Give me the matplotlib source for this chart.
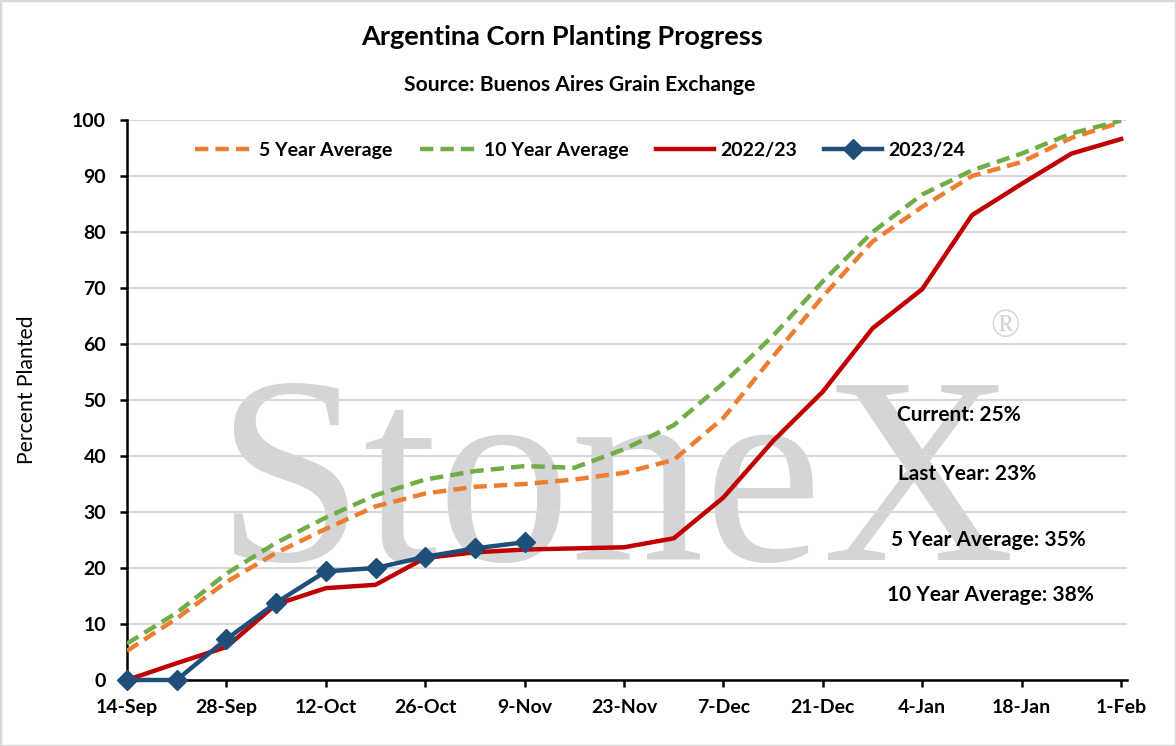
import pandas as pd
import matplotlib
matplotlib.use('Agg')
import matplotlib.pyplot as plt
from matplotlib.patches import Rectangle

plt.rcParams['font.family'] = ['Lato', 'DejaVu Sans']

# weekly report dates
weeks = ['2023-09-14', '2023-09-21', '2023-09-28', '2023-10-05', '2023-10-12',
         '2023-10-19', '2023-10-26', '2023-11-02', '2023-11-09', '2023-11-16',
         '2023-11-23', '2023-11-30', '2023-12-07', '2023-12-14', '2023-12-21',
         '2023-12-28', '2024-01-04', '2024-01-11', '2024-01-18', '2024-01-25',
         '2024-02-01']
avg5 = [5.2, 11, 17.5, 22.7, 27, 31, 33.3, 34.5, 35, 35.8, 37, 39.3, 46.8,
        57.8, 68.5, 78.3, 84.5, 90, 92.5, 96.8, 99.6]
avg10 = [6.5, 12, 19, 24.5, 29, 33, 35.8, 37.3, 38.2, 37.9, 41.2, 45.5, 53,
         61.5, 71.2, 80, 86.7, 91, 94, 97.6, 99.9]
y2022 = [0, 3, 5.9, 13.5, 16.4, 17, 21.8, 22.8, 23.3, 23.5, 23.7, 25.3, 32.6,
         42.7, 51.5, 62.8, 69.8, 83, 88.6, 94, 96.6]
y2023 = [0, 0, 7.3, 13.8, 19.4, 20, 22, 23.5, 24.6]

tick_dates = ['2023-09-14', '2023-09-28', '2023-10-12', '2023-10-26', '2023-11-09',
              '2023-11-23', '2023-12-07', '2023-12-21', '2024-01-04', '2024-01-18',
              '2024-02-01']
tick_labels = ['14-Sep', '28-Sep', '12-Oct', '26-Oct', '9-Nov', '23-Nov',
               '7-Dec', '21-Dec', '4-Jan', '18-Jan', '1-Feb']

notes = ['Current: 25%', 'Last Year: 23%', '5 Year Average: 35%', '10 Year Average: 38%']

x = pd.to_datetime(weeks)
x23 = x[:len(y2023)]

W, H = 1176, 746
fig = plt.figure(figsize=(W / 100, H / 100), dpi=100)
ax = fig.add_axes([127 / W, 66 / H, 1000 / W, 560 / H])

# watermark
ax.text(0.488, 0.215, 'StoneX', transform=ax.transAxes, ha='center', va='baseline',
        fontsize=192, family='Liberation Serif', color='#D4D5D7', zorder=0)
ax.text(0.878, 0.63, '®', transform=ax.transAxes, ha='center', va='center',
        fontsize=28, family='Liberation Serif', color='#D4D5D7', zorder=0)

ax.plot(x, avg5, color='#ED7D31', lw=3.2, ls=(0, (3, 1.6)), label='5 Year Average', zorder=3)
ax.plot(x, avg10, color='#70AD47', lw=3.2, ls=(0, (3, 1.6)), label='10 Year Average', zorder=3)
ax.plot(x, y2022, color='#C00000', lw=3.2, label='2022/23', zorder=4, solid_joinstyle='round')
ax.plot(x23, y2023, color='#1F4E79', lw=3.2, marker='D', ms=10, label='2023/24', zorder=5,
        solid_joinstyle='round', clip_on=False)

ax.set_ylim(0, 100)
ax.set_yticks(range(0, 101, 10))
ax.set_xlim(pd.Timestamp('2023-09-14'), pd.Timestamp('2024-02-01') + pd.Timedelta(hours=20))
ax.set_xticks(pd.to_datetime(tick_dates))
ax.set_xticklabels(tick_labels)

ax.grid(axis='y', color='#D9D9D9', lw=1.5, zorder=1)
ax.set_axisbelow(True)
for s in ['top', 'right']:
    ax.spines[s].set_visible(False)
for s in ['left', 'bottom']:
    ax.spines[s].set_linewidth(1.8)
    ax.spines[s].set_color('black')
ax.tick_params(direction='out', length=5, width=1.8, labelsize=14)
ax.tick_params(axis='y', pad=10)
ax.tick_params(axis='x', pad=9)
for lab in ax.get_xticklabels() + ax.get_yticklabels():
    lab.set_fontweight('bold')

ax.legend(loc='center', bbox_to_anchor=(0.453, 0.946), ncol=4, frameon=False,
          prop={'weight': 'bold', 'size': 14}, handlelength=3, handletextpad=0.3,
          columnspacing=1.4)

fig.text(562 / W, 1 - 37 / H, 'Argentina Corn Planting Progress', ha='center', va='center',
         fontsize=19.5, fontweight='bold')
fig.text(580 / W, 1 - 85 / H, 'Source: Buenos Aires Grain Exchange', ha='center', va='center',
         fontsize=15.2, fontweight='bold')
fig.text(27 / W, 1 - 390 / H, 'Percent Planted', rotation=90, ha='center', va='center',
         fontsize=15.2)

note_x = [959, 967, 988, 990]
note_y = [415, 474, 540, 595]
for t, nx, ny in zip(notes, note_x, note_y):
    fig.text(nx / W, 1 - ny / H, t, ha='center', va='center', fontsize=15, fontweight='bold')

fig.patches.append(Rectangle((0, 0), 1, 1, transform=fig.transFigure, fill=False,
                             edgecolor='#D9D9D9', lw=2.5))

fig.savefig('out.png', dpi=100)
